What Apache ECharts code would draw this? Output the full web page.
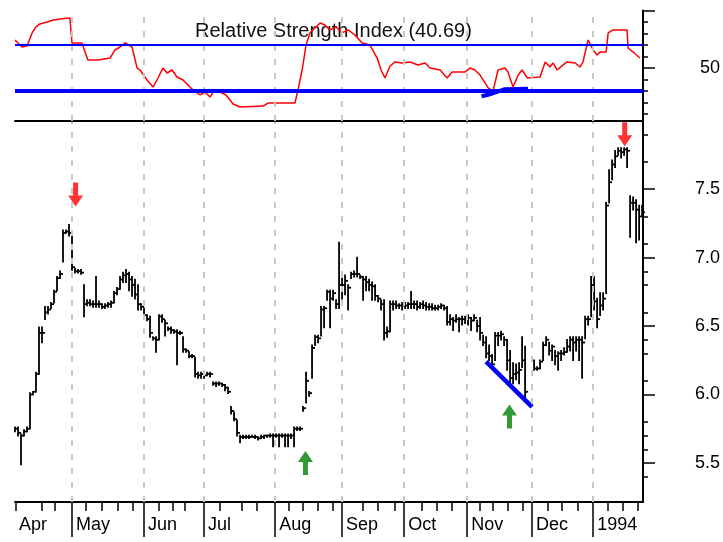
<!DOCTYPE html>
<html>
<head>
<meta charset="utf-8">
<script src="https://cdn.jsdelivr.net/npm/echarts@6/dist/echarts.min.js"></script>
<style>
    html, body { margin: 0; padding: 0; background: #fff; }
    #chart { width: 723px; height: 542px; }
</style>
</head>
<body>
<div id="chart"></div>
<script>
// daily HLC bars, index = trading day from mid April 1993
const high = [
    5.76, 5.76, 5.71, 5.74, 5.76, 6.01, 6.02, 6.16, 6.49, 6.49,
    6.64, 6.64, 6.67, 6.76, 6.86, 6.90, 7.20, 7.20, 7.24, 7.16,
    6.92, 6.91, 6.91, 6.80, 6.69, 6.69, 6.68, 6.86, 6.68, 6.66,
    6.66, 6.67, 6.68, 6.75, 6.78, 6.86, 6.89, 6.91, 6.89, 6.86,
    6.84, 6.80, 6.66, 6.63, 6.58, 6.57, 6.42, 6.42, 6.58, 6.58,
    6.54, 6.49, 6.49, 6.47, 6.47, 6.46, 6.42, 6.33, 6.31, 6.29,
    6.27, 6.16, 6.16, 6.16, 6.16, 6.16, 6.09, 6.09, 6.09, 6.08,
    6.07, 6.05, 5.91, 5.87, 5.81, 5.70, 5.70, 5.70, 5.70, 5.70,
    5.70, 5.69, 5.70, 5.70, 5.70, 5.71, 5.71, 5.71, 5.71, 5.71,
    5.71, 5.71, 5.71, 5.76, 5.76, 5.76, 5.91, 6.16, 6.02, 6.36,
    6.43, 6.43, 6.64, 6.64, 6.76, 6.76, 6.76, 6.69, 7.11, 6.89,
    6.87, 6.80, 6.89, 6.90, 7.00, 6.87, 6.86, 6.86, 6.84, 6.82,
    6.80, 6.72, 6.69, 6.69, 6.49, 6.68, 6.68, 6.68, 6.66, 6.67,
    6.67, 6.67, 6.75, 6.68, 6.68, 6.67, 6.68, 6.67, 6.66, 6.66,
    6.65, 6.65, 6.66, 6.65, 6.64, 6.58, 6.56, 6.58, 6.56, 6.57,
    6.57, 6.58, 6.56, 6.58, 6.54, 6.56, 6.43, 6.42, 6.36, 6.29,
    6.45, 6.45, 6.46, 6.42, 6.40, 6.32, 6.23, 6.22, 6.23, 6.42,
    6.35, null, null, 6.25, 6.20, 6.25, 6.38, 6.42, 6.38, 6.36,
    6.32, 6.31, 6.32, 6.34, 6.40, 6.42, 6.42, 6.42, 6.42, 6.42,
    6.57, 6.57, 6.86, 6.86, 6.70, 6.74, 6.74, 7.40, 7.64, 7.71,
    7.78, 7.80, 7.80, 7.80, 7.80, 7.45, 7.44, 7.42, 7.38, 7.38
];
const low = [
    5.73, 5.70, 5.49, 5.70, 5.73, 5.75, 6.00, 6.02, 6.15, 6.38,
    6.55, 6.59, 6.63, 6.67, 6.76, 6.85, 6.97, 7.18, 7.16, 6.91,
    6.89, 6.89, 6.88, 6.57, 6.65, 6.65, 6.64, 6.64, 6.64, 6.63,
    6.63, 6.64, 6.64, 6.67, 6.73, 6.77, 6.82, 6.82, 6.76, 6.72,
    6.70, 6.62, 6.62, 6.56, 6.54, 6.42, 6.40, 6.31, 6.40, 6.53,
    6.43, 6.47, 6.45, 6.45, 6.22, 6.44, 6.31, 6.31, 6.27, 6.27,
    6.13, 6.12, 6.12, 6.12, 6.14, 6.13, 6.07, 6.06, 6.07, 6.06,
    6.03, 6.01, 5.86, 5.81, 5.70, 5.65, 5.68, 5.68, 5.68, 5.69,
    5.68, 5.67, 5.68, 5.68, 5.69, 5.69, 5.62, 5.69, 5.62, 5.69,
    5.62, 5.62, 5.68, 5.62, 5.74, 5.74, 5.88, 5.94, 5.99, 6.12,
    6.36, 6.38, 6.43, 6.49, 6.69, 6.49, 6.69, 6.63, 6.63, 6.70,
    6.73, 6.62, 6.85, 6.86, 6.86, 6.85, 6.69, 6.76, 6.76, 6.69,
    6.69, 6.68, 6.62, 6.40, 6.42, 6.46, 6.62, 6.63, 6.63, 6.62,
    6.63, 6.63, 6.63, 6.63, 6.62, 6.63, 6.63, 6.62, 6.62, 6.62,
    6.62, 6.62, 6.63, 6.62, 6.51, 6.51, 6.47, 6.53, 6.46, 6.51,
    6.52, 6.51, 6.47, 6.54, 6.46, 6.40, 6.36, 6.27, 6.25, 6.20,
    6.25, 6.36, 6.40, 6.36, 6.18, 6.08, 6.08, 6.11, 6.08, 6.20,
    5.97, null, null, 6.18, 6.18, 6.19, 6.25, 6.36, 6.29, 6.25,
    6.22, 6.18, 6.25, 6.29, 6.31, 6.32, 6.25, 6.32, 6.25, 6.12,
    6.41, 6.51, 6.57, 6.62, 6.49, 6.58, 6.62, 6.74, 7.40, 7.57,
    7.66, 7.75, 7.73, 7.75, 7.66, 7.15, 7.35, 7.11, 7.13, 7.31
];
const close = [
    5.75, 5.72, 5.70, 5.73, 5.75, 6.00, 6.02, 6.15, 6.45, 6.45,
    6.60, 6.62, 6.66, 6.75, 6.85, 6.88, 7.18, 7.19, 7.18, 6.93,
    6.90, 6.90, 6.89, 6.66, 6.67, 6.66, 6.66, 6.66, 6.66, 6.64,
    6.65, 6.66, 6.67, 6.74, 6.77, 6.84, 6.87, 6.88, 6.84, 6.80,
    6.73, 6.66, 6.64, 6.58, 6.55, 6.45, 6.41, 6.40, 6.57, 6.55,
    6.52, 6.48, 6.47, 6.46, 6.45, 6.45, 6.33, 6.32, 6.28, 6.28,
    6.15, 6.14, 6.15, 6.14, 6.15, 6.15, 6.08, 6.08, 6.08, 6.07,
    6.05, 6.02, 5.88, 5.82, 5.72, 5.69, 5.69, 5.69, 5.69, 5.69,
    5.69, 5.68, 5.69, 5.70, 5.70, 5.70, 5.70, 5.70, 5.70, 5.70,
    5.70, 5.70, 5.70, 5.75, 5.75, 5.75, 5.90, 6.10, 6.01, 6.34,
    6.42, 6.41, 6.62, 6.63, 6.75, 6.70, 6.74, 6.66, 6.80, 6.80,
    6.83, 6.78, 6.88, 6.88, 6.88, 6.86, 6.84, 6.82, 6.80, 6.79,
    6.72, 6.70, 6.66, 6.45, 6.46, 6.66, 6.66, 6.65, 6.65, 6.65,
    6.65, 6.66, 6.66, 6.66, 6.64, 6.66, 6.65, 6.64, 6.64, 6.63,
    6.63, 6.64, 6.65, 6.63, 6.53, 6.55, 6.54, 6.55, 6.55, 6.55,
    6.56, 6.56, 6.54, 6.56, 6.50, 6.45, 6.38, 6.30, 6.28, 6.22,
    6.43, 6.43, 6.44, 6.40, 6.25, 6.12, 6.15, 6.16, 6.18, 6.25,
    6.02, null, null, 6.19, 6.19, 6.24, 6.36, 6.40, 6.32, 6.35,
    6.28, 6.30, 6.30, 6.31, 6.35, 6.40, 6.38, 6.40, 6.40, 6.38,
    6.55, 6.55, 6.80, 6.68, 6.55, 6.65, 6.70, 7.38, 7.55, 7.68,
    7.74, 7.78, 7.77, 7.79, 7.78, 7.40, 7.40, 7.35, 7.30, 7.33
];

// RSI line, read at its turning points
const rsiDays = [
    0, 1, 2.3, 4, 5.7, 7, 8.3, 10.7, 12.7, 15, 18.3, 19, 22.3, 24.3, 27.7,
    31.7, 33.3, 35, 36.7, 39, 40.7, 41.7, 44, 46, 47.3, 49.3, 50.7, 52.3, 54, 56,
    59.3, 61.7, 63.3, 65, 66.3, 68.3, 70.3, 72.7, 75, 82.7, 84.3, 93.3, 94.3, 95.7, 97,
    98.3, 100.3, 101.7, 103.3, 105, 107, 109, 111, 113.3, 115.7, 118.3, 120.7, 122, 123.3, 125,
    126.7, 129, 131.7, 134.3, 136.7, 138.3, 141.7, 144, 145.7, 150, 151.7, 153.3, 155, 157.7, 159.3,
    161, 163.3, 164.3, 166, 167.7, 169, 170.7, 175, 176.7, 178.3, 179.3, 180.7, 182.7, 184, 186.7,
    188.3, 189.3, 191, 192.7, 194, 195, 197, 197.7, 199.3, 204, 204.3, 206, 208.3
];
const rsiValues = [
    74.4, 71.8, 68.3, 69.1, 80.5, 85.7, 88.3, 90.0, 91.7, 92.6, 93.5, 71.8, 71.8, 57.0, 57.0,
    58.7, 65.7, 68.3, 71.8, 68.3, 50.0, 48.3, 39.6, 33.5, 39.6, 50.0, 45.7, 48.3, 42.2, 39.6,
    30.9, 26.6, 29.2, 24.8, 30.0, 29.2, 26.6, 18.8, 16.2, 17.0, 19.6, 19.6, 30.9, 48.3, 70.0,
    80.5, 85.7, 89.1, 87.4, 83.1, 85.7, 80.5, 83.1, 78.7, 71.8, 70.0, 58.7, 48.3, 41.4, 51.8,
    55.3, 54.4, 55.3, 52.7, 54.4, 50.0, 48.3, 41.4, 46.6, 46.6, 50.0, 48.3, 43.9, 32.7, 30.0,
    48.3, 50.0, 46.6, 33.5, 43.9, 48.3, 41.4, 42.2, 55.3, 50.9, 54.4, 48.3, 52.7, 55.3, 54.4,
    50.9, 55.3, 74.4, 65.7, 61.3, 63.9, 63.9, 80.5, 83.1, 83.1, 67.4, 63.9, 58.7
];
const rsiLevels = [70, 30];

// drawn trend lines
const rsiTrendDays = [155.5, 158, 163, 171];
const rsiTrendValues = [25.5, 27, 31.5, 32];
const priceTrendDays = [157, 172.3];
const priceTrendValues = [6.24, 5.91];

// signal arrows (centre of each arrow)
const sellArrows = [[20.2, 7.46], [203.2, 7.9]];
const buyArrows = [[96.8, 5.5], [164.8, 5.84]];

// axes
const monthDays = [19, 43, 63, 86.7, 109, 129.7, 150.7, 172.3, 192.7];
const monthLabelDays = [0, 19, 43, 63, 86.7, 109, 129.7, 150.7, 172.3, 192.7];
const monthLabels = ['Apr', 'May', 'Jun', 'Jul', 'Aug', 'Sep', 'Oct', 'Nov', 'Dec', '1994'];
const weekTicks = [0.3, 8.9, 13.3, 23.7, 28.9, 34.2, 39.3, 48, 52.6, 56.7, 68.3, 75.6, 80.6,
    91.3, 96, 101, 106, 116, 121, 126.7, 135.7, 140.7, 145.7, 155, 159.3, 164.3, 169.3,
    177.7, 182.3, 187.7, 197.7, 202.7, 207.7];
const priceLabels = [5.5, 6.0, 6.5, 7.0, 7.5];
const priceMinorTicks = [5.4, 5.6, 5.7, 5.8, 6.1, 6.3, 6.4, 6.6, 6.8, 6.9, 7.1, 7.3, 7.7, 7.9];
const rsiMajorTicks = [50, 100];
const rsiMinorTicks = [10, 20, 30, 40, 60, 70, 80, 90];

const FONT = "'Liberation Sans', Arial, sans-serif";
const DAY_MAX = 209.3;

document.addEventListener("DOMContentLoaded", function () {
    let bars = [];
    for (let i = 0; i < close.length; i++) {
        if (close[i] == null) continue;
        bars.push([i, high[i], low[i], close[i]]);
    }
    let rsi = rsiDays.map((d, i) => [d, rsiValues[i]]);
    let rsiTrend = rsiTrendDays.map((d, i) => [d, rsiTrendValues[i]]);
    let priceTrend = priceTrendDays.map((d, i) => [d, priceTrendValues[i]]);

    // high-low bar with a close tick reaching toward the next day
    function renderBar(params, api) {
        let x = api.value(0);
        let hi = api.coord([x, api.value(1)]);
        let lo = api.coord([x, api.value(2)]);
        let cl = api.coord([x, api.value(3)]);
        let style = { stroke: '#000', lineWidth: 1.8 };
        return {
            type: 'group',
            children: [
                { type: 'line', shape: { x1: hi[0], y1: hi[1] - 0.8, x2: lo[0], y2: lo[1] + 0.8 }, style: style },
                { type: 'line', shape: { x1: cl[0], y1: cl[1], x2: cl[0] + 3, y2: cl[1] }, style: style },
            ]
        };
    }

    const dashed = {
        silent: true,
        symbol: ['none', 'none'],
        label: { show: false },
        lineStyle: { type: [6, 8], color: '#c8c8c8', width: 2 },
        data: monthDays.map(d => ({ xAxis: d })),
    };
    const downPath = 'path://M5,0 L10,0 L10,13 L15,13 L7.5,24 L0,13 L5,13 Z';
    const upPath = 'path://M7.5,0 L15,11 L10,11 L10,24 L5,24 L5,11 L0,11 Z';
    const axisBlack = { show: true, onZero: false, lineStyle: { color: '#000', width: 2 } };
    const noLine = { show: false, onZero: false };

    let chart = echarts.init(document.getElementById('chart'), null, { renderer: 'canvas' });
    let option = {
        animation: false,
        backgroundColor: '#fff',
        textStyle: { fontFamily: FONT },
        title: {
            text: 'Relative Strength Index (40.69)',
            left: 195,
            top: 21,
            padding: 0,
            z: 1,
            textStyle: { fontSize: 20, fontWeight: 'normal', color: '#111', fontFamily: FONT },
        },
        grid: [
            { left: 15, right: 80, top: 10.5, height: 110.5 },
            { left: 15, right: 80, top: 122, height: 380 },
        ],
        xAxis: [
            {
                gridIndex: 0, type: 'value', position: 'bottom', min: 0, max: DAY_MAX,
                axisLine: axisBlack,
                axisTick: { show: false }, axisLabel: { show: false }, splitLine: { show: false },
            },
            {
                gridIndex: 1, type: 'value', position: 'bottom', min: 0, max: DAY_MAX,
                axisLine: axisBlack,
                axisTick: { customValues: monthDays, length: 35, lineStyle: { color: '#000', width: 1.5 } },
                axisLabel: {
                    customValues: monthLabelDays,
                    align: 'left',
                    margin: 14,
                    padding: [0, 0, 0, 4],
                    fontSize: 18,
                    color: '#000',
                    fontFamily: FONT,
                    formatter: function (v) {
                        let i = monthLabelDays.findIndex(d => Math.abs(d - v) < 0.01);
                        return i >= 0 ? monthLabels[i] : '';
                    },
                },
                splitLine: { show: false },
            },
            {
                gridIndex: 1, type: 'value', position: 'bottom', min: 0, max: DAY_MAX,
                axisLine: noLine,
                axisTick: { customValues: weekTicks, length: 9, lineStyle: { color: '#000', width: 1.5 } },
                axisLabel: { show: false }, splitLine: { show: false },
            },
        ],
        yAxis: [
            {
                gridIndex: 0, type: 'value', position: 'right', min: 4, max: 100,
                axisLine: axisBlack,
                axisTick: { customValues: rsiMajorTicks, length: 12, lineStyle: { color: '#000', width: 1.5 } },
                axisLabel: {
                    customValues: [50], align: 'right', margin: 77,
                    fontSize: 18, color: '#000', fontFamily: FONT,
                },
                splitLine: { show: false },
            },
            {
                gridIndex: 0, type: 'value', position: 'right', min: 4, max: 100,
                axisLine: noLine,
                axisTick: { customValues: rsiMinorTicks, length: 5, lineStyle: { color: '#000', width: 1.5 } },
                axisLabel: { show: false }, splitLine: { show: false },
            },
            {
                gridIndex: 1, type: 'value', position: 'right', min: 5.215, max: 7.99,
                axisLine: axisBlack,
                axisTick: { customValues: priceLabels, length: 12, lineStyle: { color: '#000', width: 1.5 } },
                axisLabel: {
                    customValues: priceLabels, align: 'right', margin: 77,
                    fontSize: 18, color: '#000', fontFamily: FONT,
                    formatter: v => v.toFixed(1),
                },
                splitLine: { show: false },
            },
            {
                gridIndex: 1, type: 'value', position: 'right', min: 5.215, max: 7.99,
                axisLine: noLine,
                axisTick: { customValues: priceMinorTicks, length: 5, lineStyle: { color: '#000', width: 1.5 } },
                axisLabel: { show: false }, splitLine: { show: false },
            },
        ],
        series: [
            // month grid lines, rsi panel
            {
                type: 'line', xAxisIndex: 0, yAxisIndex: 0, data: [], z: 1,
                markLine: dashed,
            },
            // 70 / 30 levels
            {
                type: 'line', xAxisIndex: 0, yAxisIndex: 0, data: [], z: 2,
                markLine: {
                    silent: true,
                    symbol: ['none', 'none'],
                    label: { show: false },
                    lineStyle: { type: 'solid', color: '#0000ff' },
                    data: [
                        { yAxis: rsiLevels[0], lineStyle: { width: 2 } },
                        { yAxis: rsiLevels[1], lineStyle: { width: 4 } },
                    ],
                },
            },
            {
                name: 'rsi-trend', type: 'line', xAxisIndex: 0, yAxisIndex: 0, z: 3,
                data: rsiTrend, symbol: 'none',
                lineStyle: { color: '#0000ff', width: 4 },
            },
            {
                name: 'rsi', type: 'line', xAxisIndex: 0, yAxisIndex: 0, z: 4,
                data: rsi, symbol: 'none',
                lineStyle: { color: '#ff0000', width: 1.5 },
            },
            // month grid lines, price panel
            {
                type: 'line', xAxisIndex: 1, yAxisIndex: 2, data: [], z: 1,
                markLine: dashed,
            },
            {
                name: 'price', type: 'custom', xAxisIndex: 1, yAxisIndex: 2, z: 3,
                renderItem: renderBar,
                encode: { x: 0, y: [1, 2, 3] },
                data: bars,
            },
            {
                name: 'price-trend', type: 'line', xAxisIndex: 1, yAxisIndex: 2, z: 4,
                data: priceTrend, symbol: 'none',
                lineStyle: { color: '#0000ff', width: 4.5 },
            },
            {
                name: 'sell', type: 'scatter', xAxisIndex: 1, yAxisIndex: 2, z: 5,
                data: sellArrows, symbol: downPath, symbolSize: [15, 24],
                itemStyle: { color: '#ff0000' },
            },
            {
                name: 'buy', type: 'scatter', xAxisIndex: 1, yAxisIndex: 2, z: 5,
                data: buyArrows, symbol: upPath, symbolSize: [15, 24],
                itemStyle: { color: '#008000' },
            },
        ],
    };
    chart.setOption(option);
});
</script>
</body>
</html>
